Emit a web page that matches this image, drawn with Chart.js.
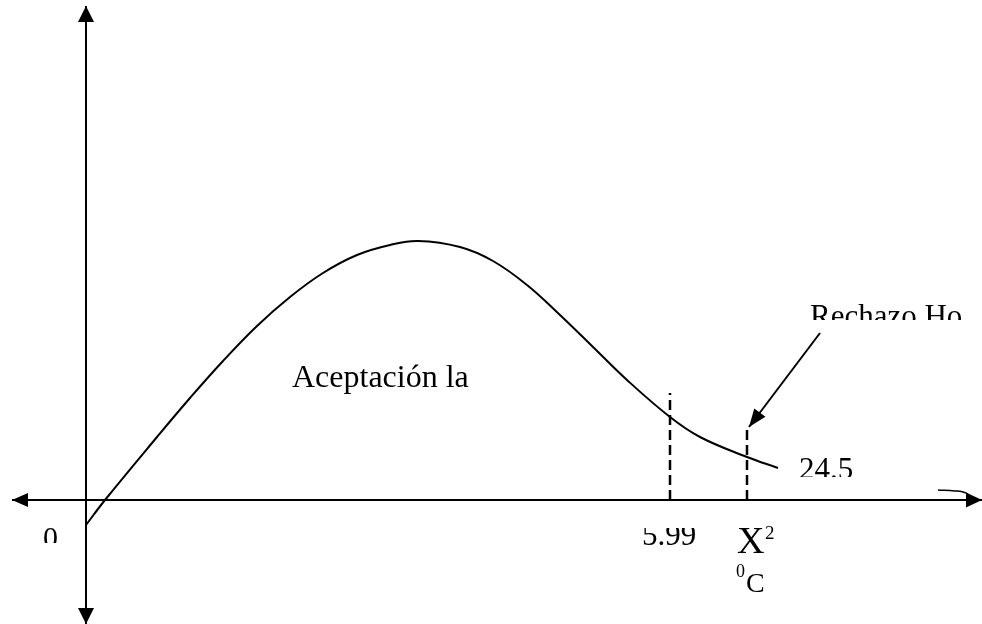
<!DOCTYPE html>
<html lang="es">
<head>
<meta charset="utf-8">
<title>Distribución X2</title>
<script src="https://cdn.jsdelivr.net/npm/chart.js@4.4.1/dist/chart.umd.min.js"></script>
<style>
    html, body{
        margin: 0;
        padding: 0;
        background: #ffffff;
    }
    .chart-box{
        width: 982px;
        height: 624px;
        position: relative;
    }
</style>
</head>
<body>

<div class="chart-box">
    <canvas id="chiChart"></canvas>
</div>

<script>

/* =========================
   DATA
========================= */

// curva de densidad (unidades del dibujo)
const curveX = [0, 1.9, 7.1, 10.4, 13.7, 17.1, 20.4, 23.7, 27.1, 30.4, 33.2, 37.4, 40.7, 44.1, 47.4, 50.7, 54.1, 58.4, 61.4, 66.1, 69.2];
const curveY = [-2.5, 0, 6.3, 10.2, 13.9, 17.4, 20.3, 22.7, 24.5, 25.5, 25.9, 25.3, 23.9, 21.5, 18.5, 15.3, 12.0, 8.3, 6.3, 4.3, 3.2];

// ejes (extremos con flecha)
const axisX = [-7.4, 89.6];
const axisY = [49.4, -12.4];

// valores críticos (líneas punteadas)
const criticalX = [58.4, 66.1];
const criticalTop = [10.7, 7.0];

// flecha "Rechazo Ho"
const pointerX = [73.4, 66.3];
const pointerY = [16.7, 7.3];

// trazo suelto junto al eje
const strokeX = [85.2, 86.9, 87.7, 88.2];
const strokeY = [1.0, 0.9, 0.8, 0.6];

/* =========================
   HELPERS
========================= */

function pairs(xs, ys){

    return xs.map((x, i) => ({ x: x, y: ys[i] }));

}

const SERIF = "'Liberation Serif', 'Times New Roman', serif";

/* =========================
   TEXTOS
========================= */

const notes = [
    { text: "Aceptación la", x: 20.6, y: 11.3, size: 32 },
    { text: "Rechazo Ho",    x: 72.4, y: 17.4, size: 31, clipBelow: 18.0 },
    { text: "24.5",          x: 71.3, y: 2.1,  size: 31, clipBelow: 2.3 },
    { text: "5.99",          x: 55.6, y: -4.5, size: 31, clipAbove: -2.8 },
    { text: "0",             x: -4.3, y: -4.7, size: 30, clipBelow: -4.3 },
    { text: "X",             x: 65.1, y: -5.3, size: 38 },
    { text: "2",             x: 67.9, y: -3.9, size: 19 },
    { text: "0",             x: 65.0, y: -7.7, size: 18 },
    { text: "C",             x: 66.0, y: -9.2, size: 28 }
];

/* =========================
   SKETCH PLUGIN
========================= */

function arrowHead(ctx, from, to, len, half){

    const ang = Math.atan2(to.y - from.y, to.x - from.x);

    ctx.save();
    ctx.translate(to.x, to.y);
    ctx.rotate(ang);
    ctx.beginPath();
    ctx.moveTo(0, 0);
    ctx.lineTo(-len, -half);
    ctx.lineTo(-len, half);
    ctx.closePath();
    ctx.fillStyle = "#000000";
    ctx.fill();
    ctx.restore();

}

const sketchPlugin = {

    id: "sketch",

    afterDatasetsDraw(chart){

        const ctx = chart.ctx;
        const sx = chart.scales.x;
        const sy = chart.scales.y;

        const px = (x, y) => ({
            x: sx.getPixelForValue(x),
            y: sy.getPixelForValue(y)
        });

        /* flechas de los ejes */

        const xa = px(axisX[0], 0);
        const xb = px(axisX[1], 0);
        arrowHead(ctx, xb, xa, 16, 7);
        arrowHead(ctx, xa, xb, 16, 7.5);

        const ya = px(0, axisY[0]);
        const yb = px(0, axisY[1]);
        arrowHead(ctx, yb, ya, 16, 8);
        arrowHead(ctx, ya, yb, 16, 8);

        /* flecha de rechazo */

        const pa = px(pointerX[0], pointerY[0]);
        const pb = px(pointerX[1], pointerY[1]);
        arrowHead(ctx, pa, pb, 18, 7);

        /* textos */

        notes.forEach(n => {

            const p = px(n.x, n.y);

            ctx.save();

            if(n.clipBelow !== undefined){
                const cy = sy.getPixelForValue(n.clipBelow);
                ctx.beginPath();
                ctx.rect(0, 0, chart.width, cy);
                ctx.clip();
            }

            if(n.clipAbove !== undefined){
                const cy = sy.getPixelForValue(n.clipAbove);
                ctx.beginPath();
                ctx.rect(0, cy, chart.width, chart.height - cy);
                ctx.clip();
            }

            ctx.font = n.size + "px " + SERIF;
            ctx.fillStyle = "#000000";
            ctx.textAlign = "left";
            ctx.textBaseline = "alphabetic";
            ctx.fillText(n.text, p.x, p.y);

            ctx.restore();

        });

    }

};

/* =========================
   CHART
========================= */

const solid = {
    borderColor: "#000000",
    borderWidth: 2,
    pointRadius: 0,
    showLine: true,
    fill: false
};

const dashed = {
    borderColor: "#000000",
    borderWidth: 2.5,
    borderDash: [10, 5],
    pointRadius: 0,
    showLine: true,
    fill: false
};

new Chart(document.getElementById("chiChart"), {

    type: "scatter",

    data: {

        datasets: [

            {
                ...solid,
                label: "curva",
                data: pairs(curveX, curveY),
                tension: 0.4
            },

            {
                ...solid,
                label: "eje x",
                data: pairs(axisX, [0, 0])
            },

            {
                ...solid,
                label: "eje y",
                data: pairs([0, 0], axisY)
            },

            {
                ...dashed,
                label: "5.99",
                data: pairs([criticalX[0], criticalX[0]], [0, criticalTop[0]])
            },

            {
                ...dashed,
                label: "X2",
                data: pairs([criticalX[1], criticalX[1]], [0, criticalTop[1]])
            },

            {
                ...solid,
                label: "rechazo",
                data: pairs(pointerX, pointerY)
            },

            {
                ...solid,
                borderWidth: 1.5,
                label: "trazo",
                data: pairs(strokeX, strokeY),
                tension: 0.4
            }

        ]

    },

    options: {

        responsive: true,
        maintainAspectRatio: false,
        animation: false,

        layout: {
            padding: 0
        },

        plugins: {
            legend: { display: false },
            tooltip: { enabled: false }
        },

        scales: {

            x: {
                type: "linear",
                min: -8.6,
                max: 89.6,
                display: false
            },

            y: {
                type: "linear",
                min: -12.4,
                max: 50.0,
                display: false
            }

        }

    },

    plugins: [sketchPlugin]

});

</script>

</body>
</html>
